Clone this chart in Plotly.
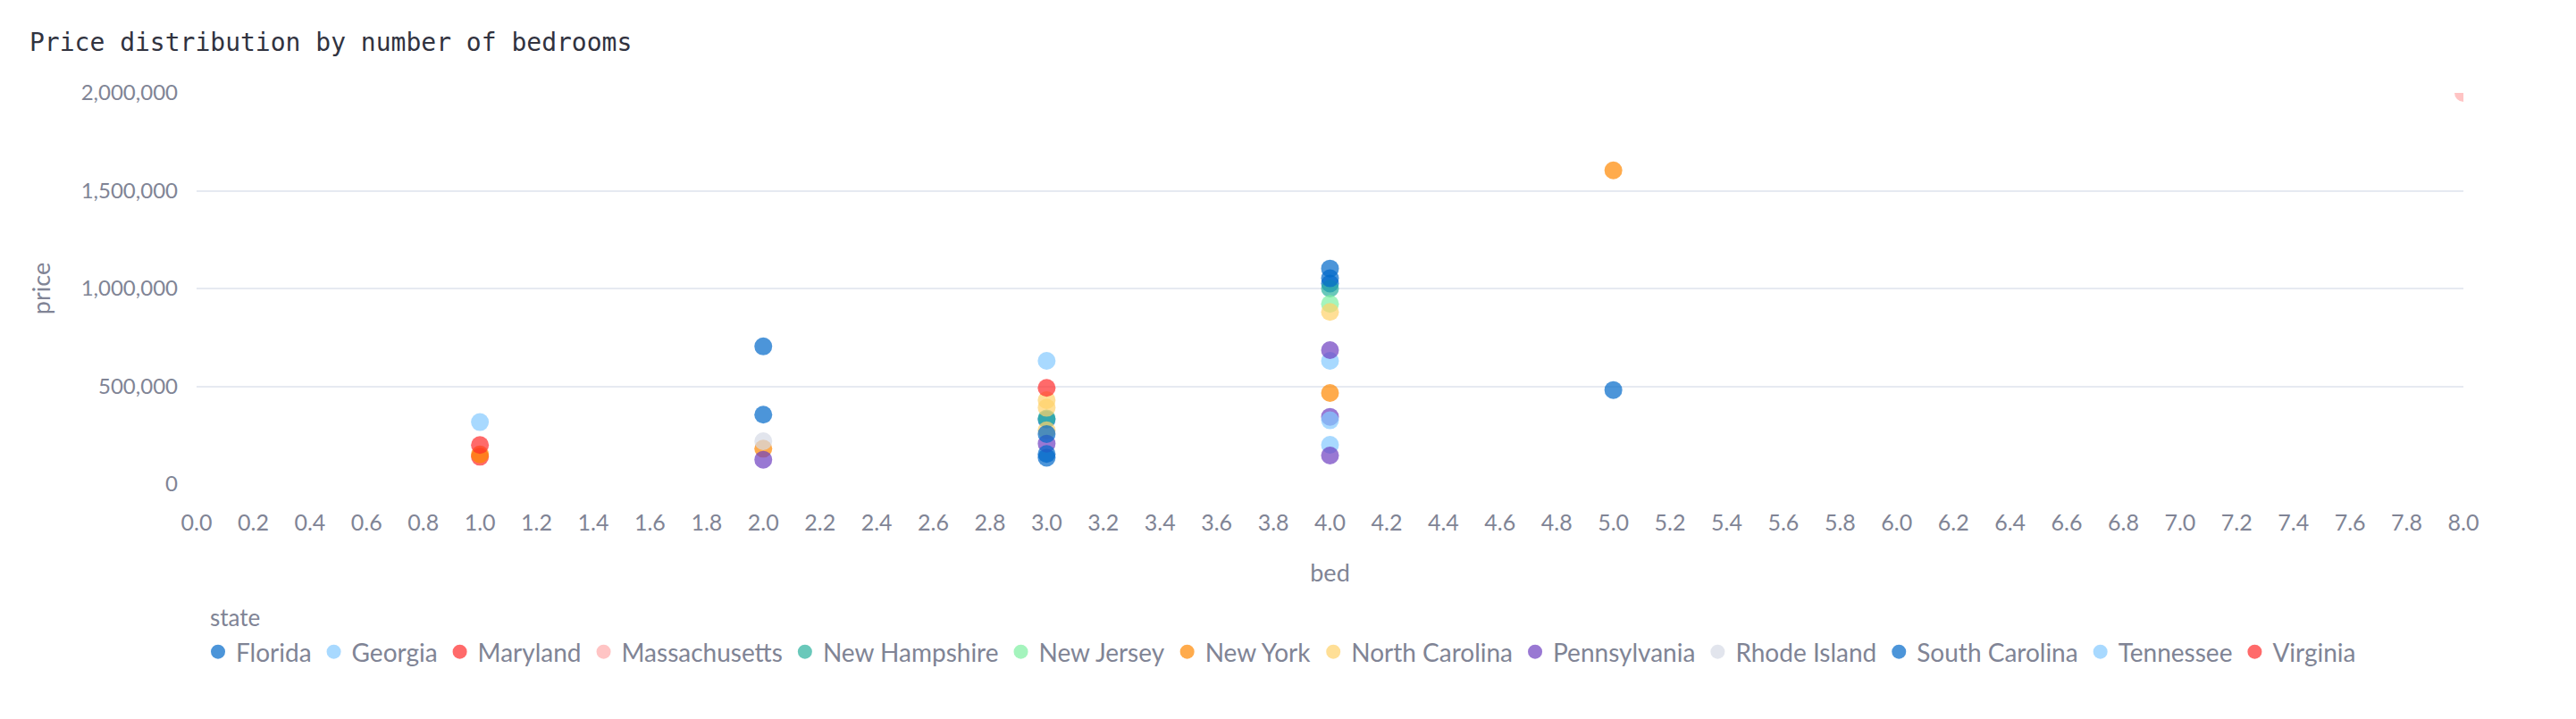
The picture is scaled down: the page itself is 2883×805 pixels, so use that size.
import plotly.graph_objects as go

# ---- data ----
states = ["Florida", "Georgia", "Maryland", "Massachusetts", "New Hampshire",
          "New Jersey", "New York", "North Carolina", "Pennsylvania",
          "Rhode Island", "South Carolina", "Tennessee", "Virginia"]

florida_bed = [2, 3, 3, 4, 4, 5]
florida_price = [704000, 330000, 135000, 1102000, 1025000, 481000]

georgia_bed = [1, 4, 4]
georgia_price = [317000, 630000, 201000]

maryland_bed = [1]
maryland_price = [140000]

massachusetts_bed = [8]
massachusetts_price = [2000000]

new_hampshire_bed = [3, 4]
new_hampshire_price = [336000, 1000000]

new_jersey_bed = [4]
new_jersey_price = [921000]

new_york_bed = [1, 2, 4, 5]
new_york_price = [152000, 181000, 466000, 1604000]

north_carolina_bed = [3, 3, 3, 4]
north_carolina_price = [429000, 390000, 275000, 880000]

pennsylvania_bed = [2, 3, 4, 4, 4]
pennsylvania_price = [125000, 207000, 685000, 344000, 146000]

rhode_island_bed = [2]
rhode_island_price = [219000]

south_carolina_bed = [2, 3, 3, 4]
south_carolina_price = [355000, 256000, 154000, 1052000]

tennessee_bed = [3, 4]
tennessee_price = [630000, 326000]

virginia_bed = [1, 3]
virginia_price = [200000, 492000]

palette = ["#0068c9", "#83c9ff", "#ff2b2b", "#ffabab", "#29b09d", "#7defa1",
           "#ff8700", "#ffd16a", "#6d3fc0", "#d5dae5"]

series = [
    (florida_bed, florida_price),
    (georgia_bed, georgia_price),
    (maryland_bed, maryland_price),
    (massachusetts_bed, massachusetts_price),
    (new_hampshire_bed, new_hampshire_price),
    (new_jersey_bed, new_jersey_price),
    (new_york_bed, new_york_price),
    (north_carolina_bed, north_carolina_price),
    (pennsylvania_bed, pennsylvania_price),
    (rhode_island_bed, rhode_island_price),
    (south_carolina_bed, south_carolina_price),
    (tennessee_bed, tennessee_price),
    (virginia_bed, virginia_price),
]

y_tickvals = [0, 500000, 1000000, 1500000, 2000000]
y_ticktext = ["0", "500,000", "1,000,000", "1,500,000", "2,000,000"]

FONT = "Lato"
GREY = "#808495"

W, H = 2883, 805
L, R, T, B = 220, 126, 104, 263
PW, PH = W - L - R, H - T - B

fig = go.Figure()
for i, (name, (bx, py)) in enumerate(zip(states, series)):
    fig.add_trace(go.Scatter(
        x=bx, y=py, mode="markers", name=name,
        marker=dict(size=20, color=palette[i % len(palette)], opacity=0.7,
                    line=dict(width=0)),
    ))

fig.update_layout(
    width=W, height=H,
    paper_bgcolor="white", plot_bgcolor="white",
    margin=dict(l=L, r=R, t=T, b=B),
    title=dict(text="Price distribution by number of bedrooms",
               font=dict(family="DejaVu Sans Mono", size=28, color="#31333F"),
               x=33 / W, xref="container", xanchor="left",
               y=1 - 47 / H, yref="container", yanchor="middle"),
    font=dict(family=FONT, color=GREY),
    showlegend=True,
    legend=dict(
        orientation="h",
        x=224 / W, xref="container", xanchor="left",
        y=1 - 705 / H, yref="container", yanchor="top",
        font=dict(size=28, color=GREY, family=FONT),
        itemsizing="trace",
    ),
    annotations=[dict(
        text="state", showarrow=False,
        xref="paper", yref="paper",
        x=(233 - L) / PW, y=(H - B - 691) / PH,
        xanchor="left", yanchor="middle",
        font=dict(size=26, color=GREY, family=FONT),
    )],
)

fig.update_xaxes(
    range=[0, 8], dtick=0.2, tick0=0, tickformat=".1f",
    showgrid=False, zeroline=False, showline=False,
    ticks="", ticklabelstandoff=26,
    tickfont=dict(size=25, color=GREY, family=FONT),
    title=dict(text="bed", font=dict(size=27, color=GREY), standoff=34),
)
fig.update_yaxes(
    range=[0, 2000000], tickvals=y_tickvals, ticktext=y_ticktext,
    showgrid=True, gridcolor="#e6eaf1", gridwidth=2,
    zeroline=False, showline=False, ticks="", ticklabelstandoff=20,
    tickfont=dict(size=24, color=GREY, family=FONT),
    title=dict(text="price", font=dict(size=27, color=GREY), standoff=26),
)

fig.write_html("out.html",
               config={"displayModeBar": False},
               post_script="document.body.style.margin='0';document.body.style.padding='0';")
